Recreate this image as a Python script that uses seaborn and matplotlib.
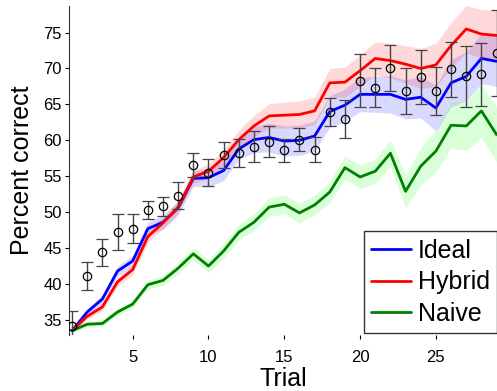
import numpy as np
import pandas as pd
import seaborn as sns
import matplotlib.pyplot as plt

# ----------------------------
# DATA
# ----------------------------
trials = list(range(1, 30))

ideal = [33.5, 36.1, 37.9, 41.8, 43.2, 47.7, 48.6, 50.6, 54.7, 54.8,
         55.8, 58.8, 60.1, 60.4, 59.9, 60.0, 60.6, 64.0, 64.9, 66.4,
         66.4, 66.4, 65.7, 66.0, 64.5, 68.0, 68.9, 71.4, 71.0]
hybrid = [33.5, 35.5, 36.8, 40.3, 42.0, 46.6, 48.5, 50.7, 54.9, 55.7,
          57.6, 60.1, 62.0, 63.4, 63.5, 63.6, 64.1, 68.0, 68.1, 69.7,
          71.4, 71.1, 70.6, 70.0, 70.5, 73.2, 75.5, 74.8, 74.6]
naive = [33.5, 34.4, 34.5, 36.1, 37.2, 39.9, 40.5, 42.2, 44.2, 42.5,
         44.6, 47.2, 48.6, 50.7, 51.1, 49.9, 51.0, 52.8, 56.2, 54.9,
         55.7, 58.2, 52.9, 56.4, 58.5, 62.1, 62.0, 64.1, 60.8]

ideal_sd = [0.3, 0.5, 0.6, 0.7, 0.8, 0.9, 1.0, 1.0, 1.1, 1.3,
            1.4, 1.5, 1.8, 2.0, 2.1, 2.1, 2.1, 2.2, 2.3, 2.4,
            2.5, 2.6, 2.7, 2.9, 3.2, 3.3, 3.4, 3.5, 3.5]
hybrid_sd = [0.2, 0.4, 0.5, 0.6, 0.7, 0.8, 0.8, 0.8, 0.9, 1.0,
             1.1, 1.3, 1.5, 1.7, 1.8, 1.9, 1.9, 2.0, 2.1, 2.2,
             2.3, 2.4, 2.6, 2.8, 3.0, 3.2, 3.3, 3.4, 3.5]
naive_sd = [0.2, 0.4, 0.4, 0.5, 0.5, 0.6, 0.7, 0.8, 0.9, 0.9,
            1.0, 1.1, 1.2, 1.3, 1.3, 1.4, 1.4, 1.5, 1.6, 1.6,
            1.7, 1.9, 2.3, 2.6, 2.9, 3.2, 3.4, 3.7, 3.8]

observed = [34.2, 41.1, 44.4, 47.2, 47.7, 50.3, 50.8, 52.3, 56.6, 55.5,
            58.0, 58.3, 59.1, 59.8, 58.6, 60.1, 58.7, 63.9, 63.0, 68.3,
            67.3, 70.1, 66.8, 68.8, 66.9, 69.9, 68.9, 69.2, 72.2]
observed_err = [2.0, 1.9, 1.9, 2.5, 2.0, 1.3, 1.3, 1.85, 1.7, 1.9,
                1.8, 1.95, 2.15, 2.15, 1.6, 1.55, 1.7, 1.95, 2.65, 3.65,
                2.7, 3.2, 3.2, 3.8, 3.35, 3.85, 4.3, 4.4, 6.0]

models = ["Ideal", "Hybrid", "Naive"]
means = {"Ideal": ideal, "Hybrid": hybrid, "Naive": naive}
sds = {"Ideal": ideal_sd, "Hybrid": hybrid_sd, "Naive": naive_sd}
line_colors = {"Ideal": (0, 0, 1), "Hybrid": (1, 0, 0), "Naive": (0, 0.5, 0)}
band_colors = {"Ideal": (0, 0, 1), "Hybrid": (1, 0, 0), "Naive": (0, 1, 0)}

# ----------------------------
# STYLE
# ----------------------------
sns.set_style("ticks")
plt.rcParams["font.family"] = ["Liberation Sans", "DejaVu Sans"]
plt.rcParams["text.color"] = "black"
plt.rcParams["axes.labelcolor"] = "black"
plt.rcParams["xtick.color"] = "black"
plt.rcParams["ytick.color"] = "black"

fig = plt.figure(figsize=(4.97, 3.91), dpi=100)
ax = fig.add_axes([69 / 497, 56 / 391, 428 / 497, 329 / 391])

# shaded bands
for m in models:
    lo = np.array(means[m]) - np.array(sds[m])
    hi = np.array(means[m]) + np.array(sds[m])
    ax.fill_between(trials, lo, hi, color=band_colors[m], alpha=0.15, lw=0)

# model lines
for m in models:
    df = pd.DataFrame({"trial": trials, "pc": means[m]})
    sns.lineplot(data=df, x="trial", y="pc", color=line_colors[m],
                 lw=2, label=m, ax=ax)

# observed data
ax.errorbar(trials, observed, yerr=observed_err, fmt="o", mfc="none",
            mec="black", ms=6, mew=0.9, ecolor="#444444", elinewidth=1,
            capsize=4, capthick=1, zorder=5)

ax.set_xlim(0.8, 29.03)
ax.set_ylim(32.9, 78.7)
ax.set_xticks([5, 10, 15, 20, 25])
ax.set_yticks([35, 40, 45, 50, 55, 60, 65, 70, 75])
ax.tick_params(axis="y", labelsize=12, length=3, width=0.8, pad=2)
ax.tick_params(axis="x", labelsize=12, length=3, width=0.8, pad=8)

ax.set_xlabel("Trial", fontsize=18, labelpad=1)
ax.set_ylabel("Percent correct", fontsize=18, labelpad=7)

for s in ["top", "right", "bottom"]:
    ax.spines[s].set_visible(False)
ax.spines["left"].set_linewidth(0.8)
ax.spines["left"].set_color("#333333")

leg = ax.legend(loc="lower right", bbox_to_anchor=(1.0, 0.005), fontsize=18,
                frameon=True, fancybox=False, edgecolor="#333333",
                framealpha=1, handlelength=1.6, handletextpad=0.25,
                labelspacing=0.3, borderpad=0.3, borderaxespad=0)
leg.get_frame().set_linewidth(1)
for line in leg.get_lines():
    line.set_linewidth(2)

fig.savefig("out.png", dpi=100)
